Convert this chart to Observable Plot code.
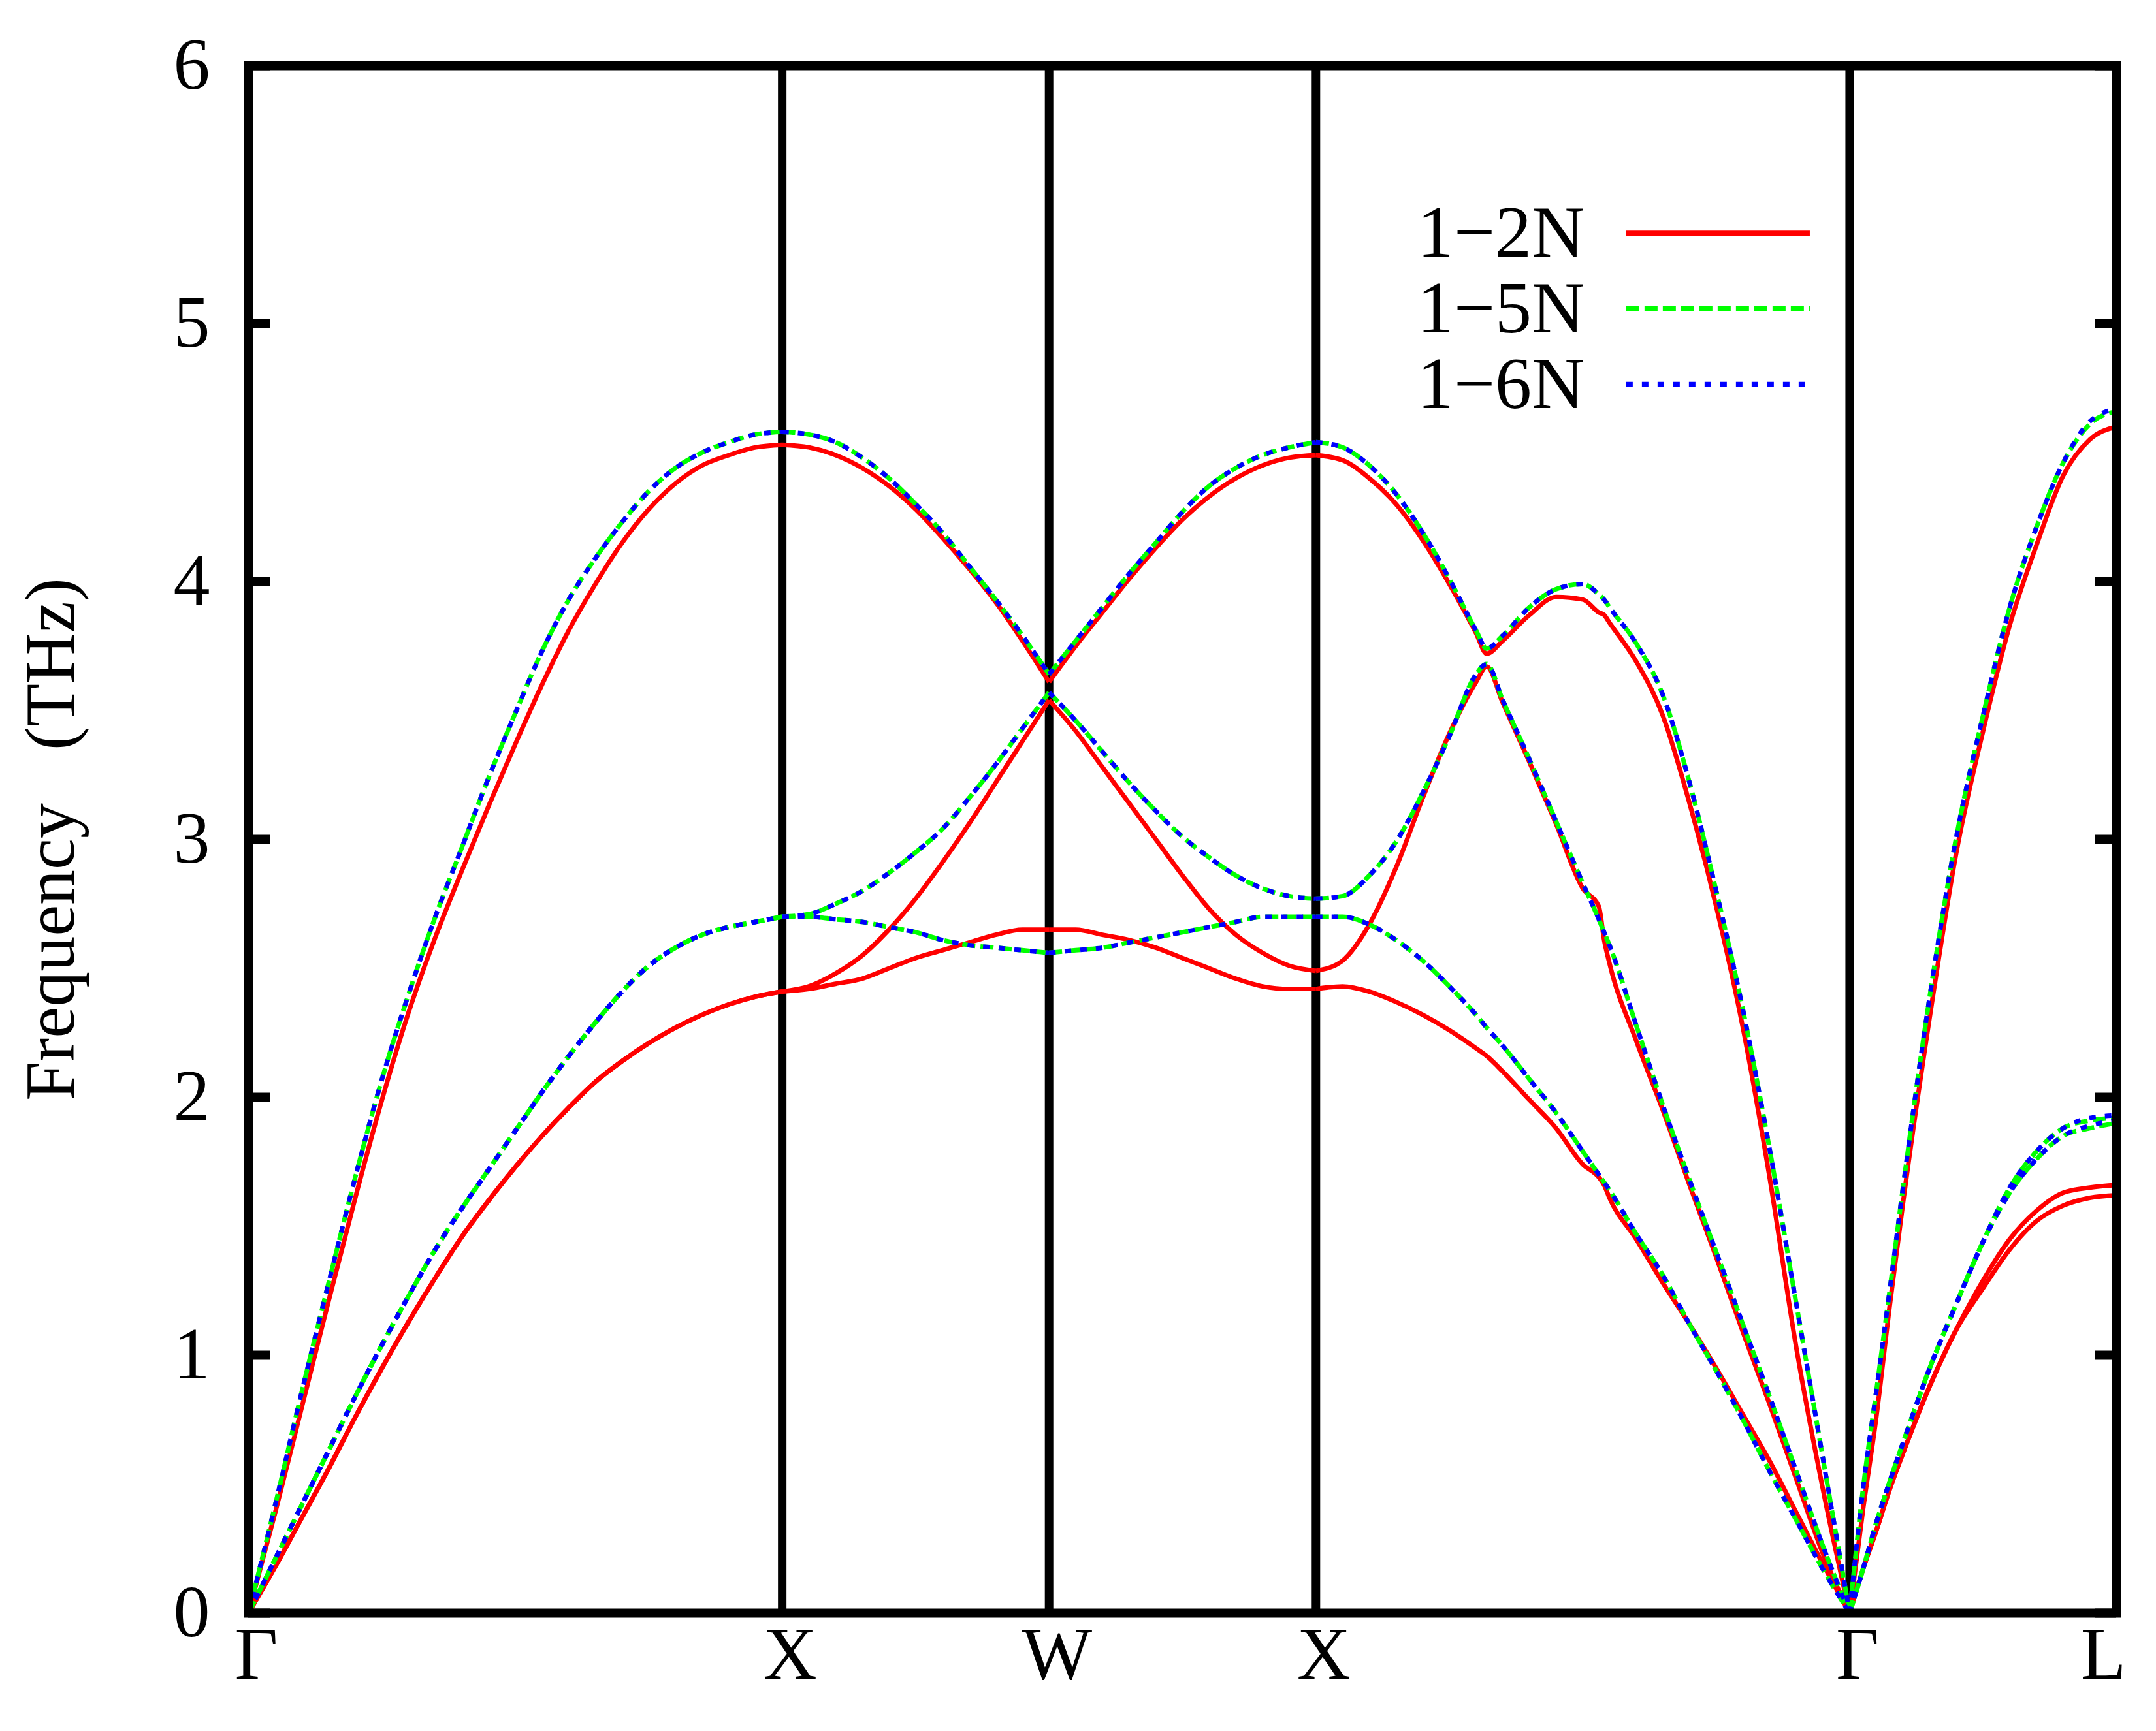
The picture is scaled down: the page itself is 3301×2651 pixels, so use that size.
<!DOCTYPE html>
<html>
<head>
<meta charset="utf-8">
<script src="https://cdn.jsdelivr.net/npm/d3@7"></script>
<script src="https://cdn.jsdelivr.net/npm/@observablehq/plot@0.6"></script>
<style>
html,body{margin:0;padding:0;background:#fff;}
svg{display:block;}
</style>
</head>
<body>
<div id="chart"></div>
<script>
// ---------- data ----------
const kPath = [0,0.05,0.1,0.15,0.2,0.25,0.3,0.35,0.4,0.45,0.5,0.55,0.6,0.65,0.7,0.75,0.8,0.85,0.9,0.95,1,
  1.05,1.1,1.15,1.2,1.25,1.3,1.35,1.4,1.45,1.5,
  1.55,1.6,1.65,1.7,1.75,1.8,1.85,1.9,1.95,2,
  2.05,2.1,2.15,2.2,2.25,2.3,2.32,2.35,2.4,2.45,2.5,2.53,2.54,2.55,2.6,2.65,2.7,2.75,2.8,2.85,2.9,2.95,3,
  3.025,3.05,3.075,3.1,3.15,3.2,3.25,3.3,3.35,3.4,3.45,3.5];
const segmentBreaks = [0, 20, 30, 40, 63, 75];
const kTicks = [0, 1, 1.5, 2, 3, 3.5];
const kLabels = ["Γ", "X", "W", "X", "Γ", "L"];
const yTicks = [0, 1, 2, 3, 4, 5, 6];
const seriesNames = ["1−2N", "1−5N", "1−6N"];
const yTitle = "Frequency\u00a0\u00a0\u00a0(THz)";

// 1-2N
const red1 = [0,0.18,0.37,0.56,0.76,0.95,1.13,1.30,1.46,1.60,1.73,1.85,1.96,2.06,2.14,2.21,2.27,2.32,2.36,2.39,2.41,
  2.42,2.44,2.46,2.50,2.54,2.57,2.60,2.63,2.65,2.65,
  2.65,2.63,2.61,2.58,2.54,2.50,2.46,2.43,2.42,2.42,
  2.43,2.41,2.37,2.32,2.26,2.19,2.16,2.10,1.99,1.88,1.74,1.69,1.66,1.61,1.45,1.28,1.12,0.95,0.77,0.59,0.39,0.19,0,
  0.17,0.32,0.48,0.62,0.88,1.10,1.26,1.41,1.52,1.58,1.61,1.62];
const red2 = [0,0.18,0.37,0.56,0.76,0.95,1.13,1.30,1.46,1.60,1.73,1.85,1.96,2.06,2.14,2.21,2.27,2.32,2.36,2.39,2.41,
  2.43,2.48,2.55,2.65,2.77,2.91,3.06,3.22,3.38,3.54,
  3.42,3.28,3.14,3.00,2.86,2.73,2.63,2.56,2.51,2.49,
  2.53,2.67,2.89,3.16,3.41,3.61,3.67,3.53,3.30,3.06,2.81,2.74,2.61,2.52,2.22,1.95,1.66,1.38,1.09,0.81,0.52,0.23,0,
  0.17,0.32,0.48,0.62,0.88,1.10,1.29,1.45,1.56,1.63,1.65,1.66];
const red3 = [0,0.39,0.80,1.21,1.61,1.99,2.33,2.62,2.88,3.13,3.37,3.60,3.81,3.99,4.15,4.28,4.38,4.45,4.49,4.52,4.53,
  4.52,4.49,4.44,4.37,4.28,4.17,4.05,3.92,3.77,3.61,
  3.75,3.88,4.01,4.13,4.24,4.33,4.40,4.45,4.48,4.49,
  4.47,4.40,4.30,4.16,3.99,3.80,3.72,3.77,3.87,3.94,3.93,3.88,3.87,3.84,3.69,3.48,3.14,2.74,2.27,1.69,1.03,0.48,0,
  0.40,0.76,1.19,1.59,2.31,2.95,3.42,3.83,4.14,4.41,4.55,4.60];

// 1-5N
const green1 = [0,0.21,0.42,0.63,0.84,1.04,1.23,1.41,1.57,1.72,1.87,2.02,2.16,2.29,2.41,2.51,2.58,2.63,2.66,2.68,2.70,
  2.70,2.69,2.68,2.66,2.64,2.61,2.59,2.58,2.57,2.56,
  2.57,2.58,2.60,2.62,2.64,2.66,2.68,2.70,2.70,2.70,
  2.70,2.67,2.61,2.53,2.43,2.32,2.27,2.20,2.07,1.94,1.79,1.70,1.67,1.64,1.47,1.31,1.12,0.94,0.75,0.55,0.36,0.17,0,
  0.17,0.35,0.51,0.66,0.95,1.20,1.44,1.63,1.76,1.85,1.88,1.90];
const green2 = [0,0.21,0.42,0.63,0.84,1.04,1.23,1.41,1.57,1.72,1.87,2.02,2.16,2.29,2.41,2.51,2.58,2.63,2.66,2.68,2.70,
  2.71,2.75,2.80,2.87,2.95,3.04,3.16,3.29,3.43,3.57,
  3.46,3.34,3.22,3.11,3.01,2.93,2.86,2.81,2.78,2.77,
  2.78,2.86,2.99,3.18,3.40,3.64,3.68,3.54,3.31,3.07,2.83,2.69,2.64,2.59,2.28,1.97,1.68,1.40,1.12,0.84,0.55,0.26,0,
  0.17,0.35,0.51,0.66,0.95,1.20,1.44,1.65,1.79,1.88,1.91,1.92];
const green3 = [0,0.42,0.86,1.28,1.69,2.07,2.40,2.70,2.97,3.24,3.49,3.73,3.93,4.09,4.23,4.35,4.44,4.50,4.54,4.57,4.58,
  4.57,4.54,4.48,4.40,4.30,4.19,4.06,3.93,3.79,3.64,
  3.77,3.90,4.03,4.15,4.27,4.37,4.44,4.49,4.52,4.54,
  4.52,4.45,4.34,4.19,4.01,3.81,3.74,3.79,3.90,3.97,3.99,3.95,3.93,3.90,3.76,3.56,3.22,2.80,2.34,1.80,1.20,0.60,0,
  0.48,0.86,1.25,1.65,2.39,3.01,3.48,3.90,4.21,4.46,4.61,4.66];

// 1-6N
const blue1 = [0,0.21,0.42,0.63,0.84,1.04,1.23,1.41,1.57,1.72,1.87,2.02,2.16,2.29,2.41,2.51,2.58,2.63,2.66,2.68,2.70,
  2.70,2.69,2.68,2.66,2.64,2.61,2.59,2.58,2.57,2.56,
  2.57,2.58,2.60,2.62,2.64,2.66,2.68,2.70,2.70,2.70,
  2.70,2.67,2.61,2.53,2.43,2.32,2.27,2.20,2.07,1.94,1.79,1.70,1.67,1.64,1.47,1.31,1.12,0.94,0.75,0.55,0.36,0.17,0,
  0.17,0.35,0.51,0.66,0.95,1.20,1.44,1.63,1.76,1.85,1.89,1.91];
const blue2 = [0,0.21,0.42,0.63,0.84,1.04,1.23,1.41,1.57,1.72,1.87,2.02,2.16,2.29,2.41,2.51,2.58,2.63,2.66,2.68,2.70,
  2.71,2.75,2.80,2.87,2.95,3.04,3.16,3.29,3.43,3.57,
  3.46,3.34,3.22,3.11,3.01,2.93,2.86,2.81,2.78,2.77,
  2.78,2.86,2.99,3.18,3.40,3.64,3.68,3.54,3.31,3.07,2.83,2.69,2.64,2.59,2.28,1.97,1.68,1.40,1.12,0.84,0.55,0.26,0,
  0.17,0.35,0.51,0.66,0.95,1.20,1.44,1.65,1.79,1.88,1.92,1.93];
const blue3 = [0,0.42,0.86,1.28,1.69,2.07,2.40,2.70,2.97,3.24,3.49,3.73,3.93,4.09,4.23,4.35,4.44,4.50,4.54,4.57,4.58,
  4.57,4.54,4.48,4.40,4.30,4.19,4.06,3.93,3.79,3.64,
  3.77,3.90,4.03,4.15,4.27,4.37,4.44,4.49,4.52,4.54,
  4.52,4.45,4.34,4.19,4.01,3.81,3.74,3.79,3.90,3.97,3.99,3.95,3.93,3.90,3.76,3.56,3.22,2.80,2.34,1.80,1.20,0.60,0,
  0.48,0.86,1.25,1.65,2.39,3.01,3.48,3.90,4.21,4.46,4.62,4.67];

const bandsBySeries = [[red1, red2, red3], [green1, green2, green3], [blue1, blue2, blue3]];

// ---------- styles & layout ----------
const W = 3301, H = 2651;
const mL = 380, mR = 61, mT = 100, mB = 181;
const frameW = W - mL - mR;
const FONT = "'Liberation Serif', 'Times New Roman', Times, serif";
const styles = [
  {stroke: "#ff0000", dash: undefined},
  {stroke: "#00ff00", dash: "20,8"},
  {stroke: "#0000ff", dash: "10,14"}
];
const lineW = 7;
const tickLen = 33;
const legend = {textEnd: 2.503, lineStart: 2.582, lineEnd: 2.926, top: 5.35, step: 0.293};

function rowsFor(si) {
  const rows = [];
  bandsBySeries[si].forEach((vals, b) => {
    for (let s = 0; s < segmentBreaks.length - 1; s++) {
      for (let i = segmentBreaks[s]; i <= segmentBreaks[s + 1]; i++) {
        rows.push({k: kPath[i], f: vals[i], g: b + "-" + s});
      }
    }
  });
  return rows;
}

const marks = [];
// high-symmetry vertical lines
marks.push(Plot.ruleX(kTicks.slice(1, -1), {stroke: "black", strokeWidth: 13}));
// dispersion curves
seriesNames.forEach((name, si) => {
  marks.push(Plot.line(rowsFor(si), {
    x: "k", y: "f", z: "g",
    stroke: styles[si].stroke, strokeWidth: lineW,
    strokeDasharray: styles[si].dash,
    strokeLinecap: "butt", strokeLinejoin: "round",
    curve: "monotone-x"
  }));
});
// frame
marks.push(Plot.frame({stroke: "black", strokeWidth: 14}));
// inward ticks on left and right
marks.push(Plot.ruleY(yTicks, {stroke: "black", strokeWidth: 14, insetRight: frameW - tickLen}));
marks.push(Plot.ruleY(yTicks, {stroke: "black", strokeWidth: 14, insetLeft: frameW - tickLen}));
// axes
marks.push(Plot.axisY({ticks: yTicks, tickSize: 0, tickPadding: 59, fontSize: 112, label: null, tickFormat: d => String(d)}));
marks.push(Plot.axisX({ticks: kTicks.slice(0, -1), tickSize: 0, tickPadding: 20, fontSize: 114, label: null, dx: 12,
  tickFormat: d => kLabels[kTicks.indexOf(d)]}));
marks.push(Plot.axisX({ticks: kTicks.slice(-1), tickSize: 0, tickPadding: 20, fontSize: 114, label: null, dx: -20,
  tickFormat: d => kLabels[kTicks.indexOf(d)]}));
// y title
marks.push(Plot.text([yTitle], {text: d => d, frameAnchor: "left", textAnchor: "middle", rotate: -90, dx: -302, fontSize: 108}));
// legend
seriesNames.forEach((name, si) => {
  const yy = legend.top - si * legend.step;
  marks.push(Plot.ruleY([yy], {x1: legend.lineStart, x2: legend.lineEnd,
    stroke: styles[si].stroke, strokeWidth: 8, strokeDasharray: styles[si].dash, strokeLinecap: "butt"}));
  marks.push(Plot.text([name], {x: legend.textEnd, y: yy, text: d => d, textAnchor: "end", fontSize: 112}));
});

const chart = Plot.plot({
  width: W, height: H,
  marginLeft: mL, marginRight: mR, marginTop: mT, marginBottom: mB,
  x: {domain: [0, 3.5]},
  y: {domain: [0, 6]},
  style: {fontFamily: FONT, background: "white", color: "black"},
  marks
});
document.getElementById("chart").appendChild(chart);
</script>
</body>
</html>
